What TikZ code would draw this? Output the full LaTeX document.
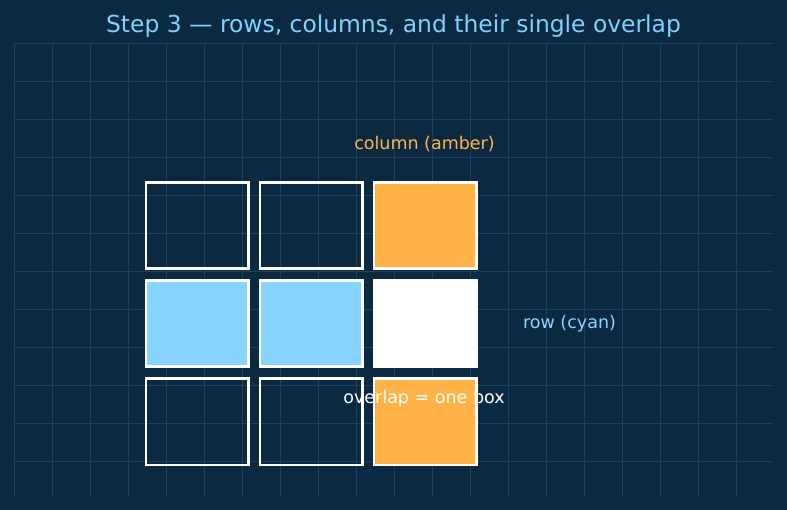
\documentclass[tikz,border=0pt]{standalone}
\usepackage{fontspec}
\setmainfont{DejaVu Sans}
\definecolor{bg}{RGB}{12,41,66}
\definecolor{gridc}{RGB}{30,66,92}
\definecolor{amber}{RGB}{255,179,71}
\definecolor{cyanc}{RGB}{135,212,255}
\definecolor{titlec}{RGB}{125,211,252}
\begin{document}
\begin{tikzpicture}[x=1pt,y=-1pt,
  cell/.style={draw=white,line width=2.6pt,minimum width=102.5pt,minimum height=86.5pt,inner sep=0pt,anchor=north west},
  lab/.style={font=\fontsize{17.5}{20}\selectfont,inner sep=0pt,anchor=base}]
\fill[bg] (0,0) rectangle (787,510);
\useasboundingbox (0,0) rectangle (787,510);
\foreach \i in {0,...,19} \draw[gridc,line width=0.7pt] (14+38*\i,43) -- (14+38*\i,496);
\foreach \j in {0,...,11} \draw[gridc,line width=0.7pt] (14,43+38*\j) -- (773,43+38*\j);
\node[font=\fontsize{23.4}{28}\selectfont,text=titlec,inner sep=0pt,anchor=base] (title) at (393.5,32.5) {Step 3 — rows, columns, and their single overlap};
\node[cell] (c11) at (144.5,181) {};
\node[cell] (c12) at (258.5,181) {};
\node[cell,fill=amber] (c13) at (372.5,181) {};
\node[cell,fill=cyanc] (c21) at (144.5,279) {};
\node[cell,fill=cyanc] (c22) at (258.5,279) {};
\node[cell,fill=white] (c23) at (372.5,279) {};
\node[cell] (c31) at (144.5,377) {};
\node[cell] (c32) at (258.5,377) {};
\node[cell,fill=amber] (c33) at (372.5,377) {};
\node[lab,text=amber] (colLab) at (424.5,150) {column (amber)};
\node[lab,text=cyanc] (rowLab) at (569.5,329) {row (cyan)};
\node[lab,text=white] (ovLab) at (424,403) {overlap = one box};
\end{tikzpicture}
\end{document}
